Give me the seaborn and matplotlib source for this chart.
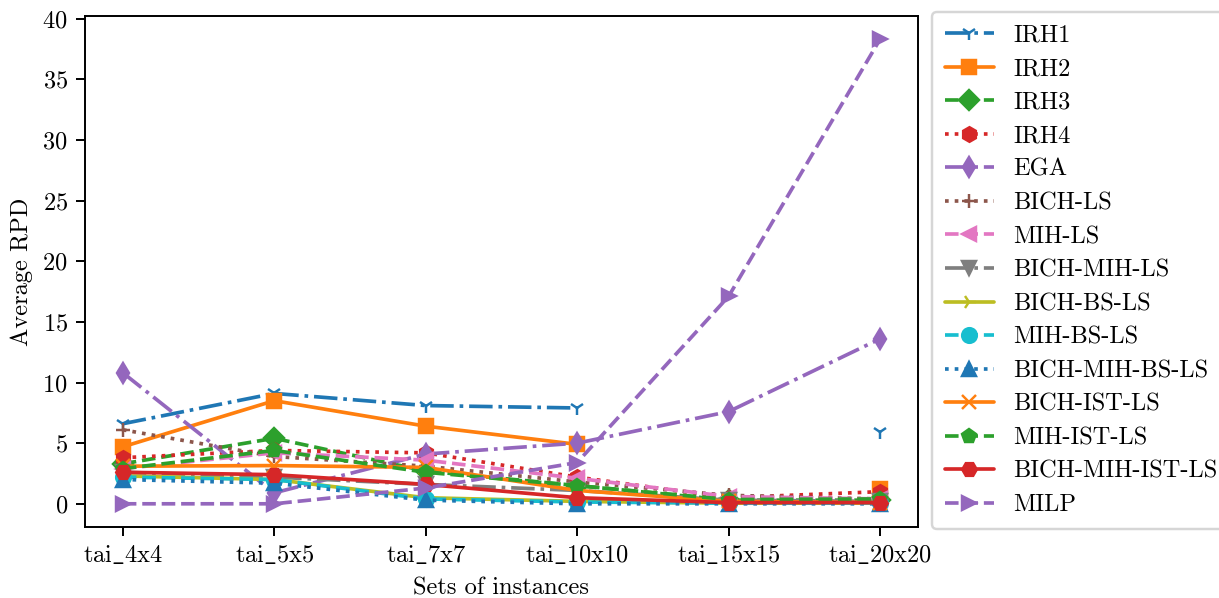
import numpy as np
import pandas as pd
import matplotlib
matplotlib.use("Agg")
import matplotlib.pyplot as plt
from matplotlib.lines import Line2D
import seaborn as sns

instances = ["tai_4x4", "tai_5x5", "tai_7x7", "tai_10x10", "tai_15x15", "tai_20x20"]

irh1 = [6.6, 9.1, 8.1, 7.9, np.nan, 5.9]
irh2 = [4.7, 8.5, 6.4, 4.9, np.nan, 1.2]
irh3 = [3.3, 5.4, 2.7, 1.5, 0.3, 0.3]
irh4 = [3.8, 4.4, 4.2, 2.2, 0.5, 1.0]
ega = [10.8, 0.9, 4.1, 5.0, 7.6, 13.6]
bich_ls = [6.1, 3.9, 3.1, 1.8, 0.7, 0.4]
mih_ls = [2.9, 4.2, 3.6, 2.1, 0.6, 0.4]
bich_mih_ls = [2.6, 2.2, 1.6, 1.1, 0.3, 0.2]
bich_bs_ls = [2.3, 2.0, 0.5, 0.2, 0.05, 0.05]
mih_bs_ls = [2.2, 2.0, 0.4, 0.15, 0.05, 0.05]
bich_mih_bs_ls = [2.0, 1.7, 0.3, 0.0, 0.0, 0.0]
bich_ist_ls = [3.1, 3.15, 3.0, 1.1, 0.2, 0.1]
mih_ist_ls = [2.9, 4.4, 2.6, 1.5, 0.35, 0.4]
bich_mih_ist_ls = [2.6, 2.4, 1.6, 0.5, 0.1, 0.1]
milp = [0.0, 0.0, 1.3, 3.4, 17.1, 38.3]

methods = ["IRH1", "IRH2", "IRH3", "IRH4", "EGA", "BICH-LS", "MIH-LS", "BICH-MIH-LS",
           "BICH-BS-LS", "MIH-BS-LS", "BICH-MIH-BS-LS", "BICH-IST-LS", "MIH-IST-LS",
           "BICH-MIH-IST-LS", "MILP"]
values = [irh1, irh2, irh3, irh4, ega, bich_ls, mih_ls, bich_mih_ls, bich_bs_ls,
          mih_bs_ls, bich_mih_bs_ls, bich_ist_ls, mih_ist_ls, bich_mih_ist_ls, milp]

tab = sns.color_palette("tab10")
colors = [tab[i % 10] for i in range(len(methods))]
marker_list = ["1", "s", "D", "h", "d", "+", "<", "v", "4", "o", "^", "x", "p", "H", ">"]
style_list = ["-.", "-", "--", ":", "-.", ":", "--", "-.", "-", "--", ":", "-", "--", "-", "--"]

sns.set_style("ticks", {"axes.edgecolor": "black", "xtick.color": "black",
                        "ytick.color": "black", "text.color": "black",
                        "axes.labelcolor": "black"})
plt.rcParams["font.family"] = ["cmr10", "DejaVu Serif"]
plt.rcParams["mathtext.fontset"] = "cm"
plt.rcParams["axes.unicode_minus"] = False
plt.rcParams["axes.formatter.use_mathtext"] = True
plt.rcParams["font.size"] = 10

lw = 1.5

fig = plt.figure(figsize=(1219 / 176, 598 / 176), dpi=176)
ax = fig.add_axes([0.0697, 0.1187, 0.6833, 0.8545])

for m, vals, c, mk, ls in zip(methods, values, colors, marker_list, style_list):
    rows = []
    seg = 0
    for i, v in enumerate(vals):
        if np.isnan(v):
            seg += 1
            continue
        rows.append({"x": i, "rpd": v, "seg": seg})
    sub = pd.DataFrame(rows)
    sns.lineplot(data=sub, x="x", y="rpd", units="seg", estimator=None, color=c,
                 marker=mk, linestyle=ls, linewidth=lw, markersize=6,
                 markeredgecolor=c, markerfacecolor=c, markeredgewidth=1.0,
                 legend=False, ax=ax, sort=False)

ax.set_xticks(range(len(instances)))
# cmr10 has no underscore glyph at '_', so render the labels through mathtext
ax.set_xticklabels([r"$\mathrm{" + s.replace("_", r"\_") + "}$" for s in instances])
ax.set_xlabel("Sets of instances")
ax.set_ylabel("Average RPD")
ax.set_yticks(np.arange(0, 41, 5))
ax.margins(x=0.05, y=0.05)
ax.autoscale_view()

handles = [Line2D([], [], color=c, marker=mk, linestyle=ls, linewidth=lw,
                  markersize=6, markeredgecolor=c, markerfacecolor=c)
           for c, mk, ls in zip(colors, marker_list, style_list)]
ax.legend(handles, methods, loc="upper left", bbox_to_anchor=(1.017, 1.008),
          borderaxespad=0, frameon=True, fancybox=True, edgecolor="0.8",
          labelspacing=0.467, borderpad=0.52)

fig.savefig("out.png", dpi=176)
